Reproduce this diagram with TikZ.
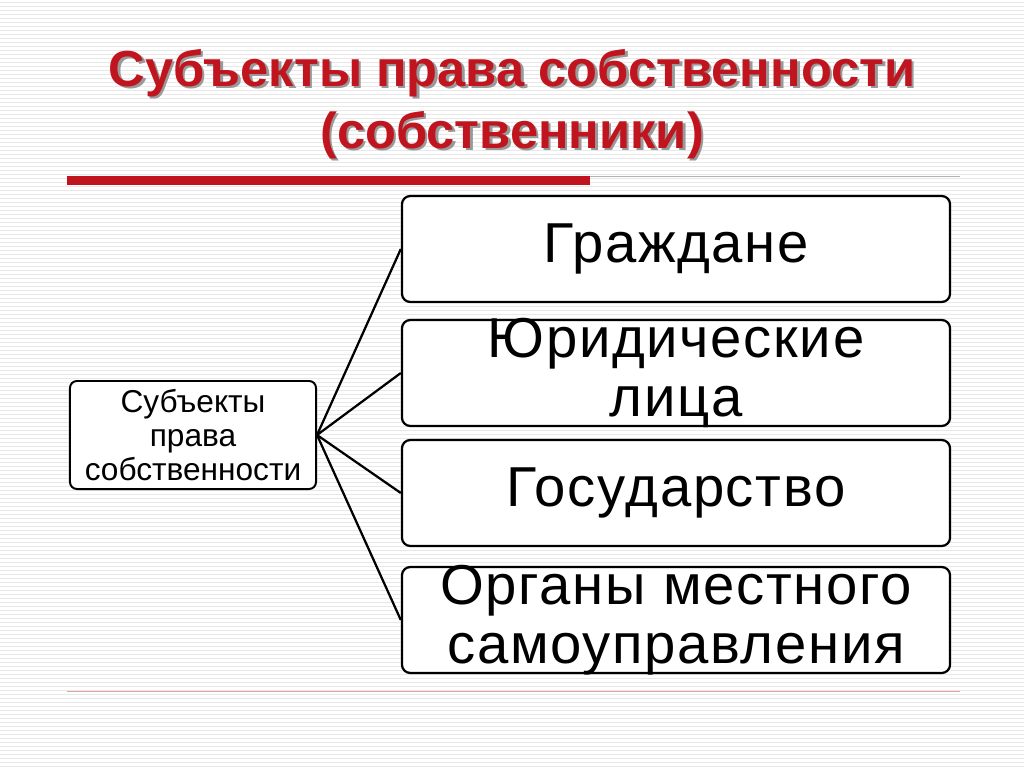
\documentclass[tikz,border=0pt]{standalone}
\usepackage{fontspec}
\setmainfont{Liberation Sans}
\newfontfamily\itemfont[LetterSpace=3]{Liberation Sans}
\definecolor{titlered}{RGB}{192,20,30}
\definecolor{stripe}{RGB}{232,232,232}
\tikzset{
  itembox/.style={draw, line width=1.6pt, rounded corners=6pt, minimum width=13.7cm, minimum height=2.65cm, inner sep=0pt, fill=white},
  itemtext/.style={align=center, inner sep=0pt, font=\itemfont\fontsize{40}{42}\selectfont},
  rootbox/.style={draw, line width=1.4pt, rounded corners=5pt, minimum width=6.15cm, minimum height=2.7cm, align=center, inner sep=0pt, font=\fontsize{22.5}{24}\selectfont, fill=white},
  link/.style={line width=1.6pt}
}
\begin{document}
\begin{tikzpicture}[x=0.025cm, y=-0.025cm]
    \useasboundingbox (0,0) rectangle (1024,767);
    \fill[white] (0,0) rectangle (1024,767);
    % striped background
    \foreach \y in {2,6,...,766} {
        \draw[stripe, line width=0.6pt] (0,\y) -- (1024,\y);
    }
    % title with shadow
    \foreach \dx/\col in {2.5/gray!80, 0/titlered} {
        \node[text=\col, font=\bfseries\fontsize{36}{44}\selectfont, align=center] at (512+\dx,104+\dx)
            {Субъекты права собственности\\(собственники)};
    }
    % rules
    \fill[titlered] (67,176) rectangle (590,185);
    \draw[gray!60] (590,176) -- (960,176);
    \draw[titlered!40] (67,691) -- (960,691);
    % boxes
    \node[rootbox] (root) at (193,435) {Субъекты\\права\\собственности};
    \node[itembox] (citizens) at (676,249) {};
    \node[itembox] (legal) at (676,373) {};
    \node[itembox] (state) at (676,493) {};
    \node[itembox] (local) at (676,620) {};
    \node[itemtext] (citizenstext) at (citizens.center) {Граждане};
    \node[itemtext] (legaltext) at (legal.center) {Юридические\\лица};
    \node[itemtext] (statetext) at (state.center) {Государство};
    \node[itemtext] (localtext) at (local.center) {Органы местного\\самоуправления};
    % connectors
    \foreach \n in {citizens, legal, state, local} {
        \draw[link] (root.east) -- (\n.west);
    }
\end{tikzpicture}
\end{document}
